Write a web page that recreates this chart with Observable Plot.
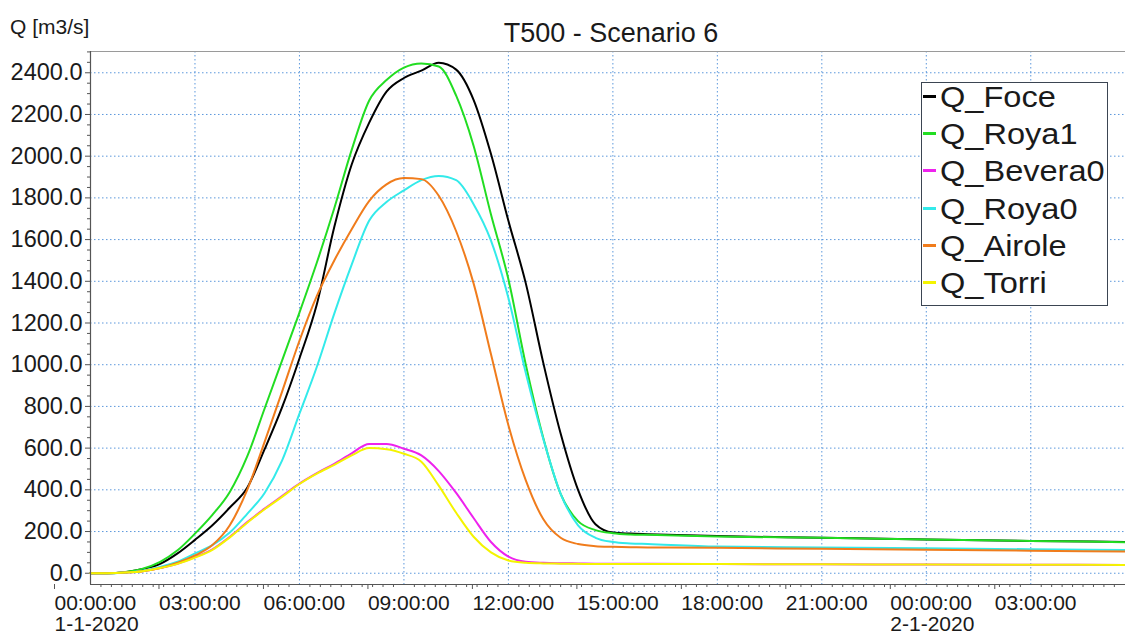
<!DOCTYPE html>
<html>
<head>
<meta charset="utf-8">
<script src="https://cdn.jsdelivr.net/npm/d3@7"></script>
<script src="https://cdn.jsdelivr.net/npm/@observablehq/plot@0.6"></script>
<style>
  html, body { margin: 0; padding: 0; background: #fff; overflow: hidden; }
  #wrap { position: relative; width: 1125px; height: 639px; font-family: "Liberation Sans", Arial, sans-serif; color: #1a1a1a; }
  #chart { position: absolute; left: 0; top: 0; }
  #title { position: absolute; left: 411px; width: 400px; top: 18px; line-height: 30px; text-align: center; font-size: 27px; }
  #ylabel { position: absolute; left: 10px; top: 15px; line-height: 24px; font-size: 21px; white-space: nowrap; }
  #legend { position: absolute; left: 921px; top: 82px; width: 185px; height: 222px; border: 1.5px solid #3b4552; background: #fff; }
  .lrow { position: absolute; left: 0; height: 37px; line-height: 37px; font-size: 30px; white-space: nowrap; }
  .ldash { position: absolute; left: 1px; top: 17px; width: 13px; height: 3px; }
  .ltext { position: absolute; left: 18px; top: 0; display: inline-block; transform: scaleX(1.085); transform-origin: left center; }
</style>
</head>
<body>
<div id="wrap">
  <div id="chart"></div>
  <div id="title">T500 - Scenario 6</div>
  <div id="ylabel">Q [m3/s]</div>
  <div id="legend"></div>
</div>
<script>
// ---- data (hours since 1-1-2020 00:00, discharge in m3/s) ----
const hours = [0,0.5,1,1.5,2,2.5,3,3.5,4,4.5,5,5.5,6,6.5,7,7.5,8,8.5,9,9.5,10,10.5,11,11.5,12,12.5,13,13.5,14,14.5,15,15.5,16,18,21,24,27,29.72];

const qFoce    = [0,0,5,20,45,95,160,230,315,410,595,795,1030,1290,1660,1960,2160,2310,2375,2410,2448,2415,2270,2010,1690,1390,1010,670,400,235,195,190,187,178,170,162,155,150];
const qRoya1   = [0,0,6,22,55,110,190,280,390,560,790,1020,1250,1490,1750,2030,2266,2365,2425,2445,2430,2290,2050,1720,1410,1000,650,381,250,207,192,186,184,176,170,162,155,149];
const qBevera0 = [0,0,3,10,25,45,77,115,175,245,310,370,430,480,525,575,620,620,597,565,490,385,265,150,80,55,50,48,47,46,46,45,45,44,43,42,41,40];
const qRoya0   = [0,0,4,12,30,55,95,135,195,285,385,540,765,990,1245,1480,1690,1780,1836,1885,1905,1885,1770,1595,1320,960,645,381,230,170,150,143,140,128,124,120,115,112];
const qAirole  = [0,0,3,10,25,50,85,135,230,400,630,870,1115,1330,1500,1650,1785,1865,1895,1890,1810,1640,1390,1050,710,445,260,170,140,130,127,125,124,122,117,113,108,104];
const qTorri   = [0,0,3,10,25,45,75,112,172,242,307,366,428,478,520,565,600,595,573,535,420,290,175,100,61,50,47,46,45,44,44,44,44,44,43,42,41,40];

const seriesNames  = ["Q_Foce","Q_Roya1","Q_Bevera0","Q_Roya0","Q_Airole","Q_Torri"];
const seriesColors = ["#000000","#22dd22","#ee22ee","#33eaea","#f07c1c","#f4f400"];
const seriesValues = [qFoce, qRoya1, qBevera0, qRoya0, qAirole, qTorri];

const yTicks = [0,200,400,600,800,1000,1200,1400,1600,1800,2000,2200,2400];
const xTickHours  = [0,3,6,9,12,15,18,21,24,27];
const xTickLabels = ["00:00:00\n1-1-2020","03:00:00","06:00:00","09:00:00","12:00:00","15:00:00","18:00:00","21:00:00","00:00:00\n2-1-2020","03:00:00"];

// ---- build table ----
const data = seriesNames.flatMap((name, i) =>
  hours.map((h, j) => ({ name, h, q: seriesValues[i][j] })));

const xDomain = [0, 29.72];
const yDomain = [-54, 2502];
const minorY = d3.range(0, 2501, 50).filter(v => v % 200 !== 0);
const minorX = d3.range(0, 29.7, 0.3).filter(v => Math.abs(v / 3 - Math.round(v / 3)) > 1e-6);

const gridStyle = { stroke: "#3f86d6", strokeOpacity: 0.85, strokeWidth: 1, strokeDasharray: "1.5,2.5" };

const chart = Plot.plot({
  width: 1125,
  height: 639,
  marginLeft: 90,
  marginRight: 0,
  marginTop: 51,
  marginBottom: 55,
  style: { fontFamily: "'Liberation Sans', Arial, sans-serif", fontSize: "21px", color: "#1a1a1a", background: "#fff" },
  x: { domain: xDomain },
  y: { domain: yDomain },
  color: { domain: seriesNames, range: seriesColors },
  marks: [
    Plot.gridX(xTickHours, gridStyle),
    Plot.gridY(yTicks, gridStyle),
    Plot.ruleY([yDomain[1]], { stroke: "#9a9a9a", strokeWidth: 1.2 }),
    Plot.axisY(yTicks, { label: null, tickSize: 5, tickPadding: 3, fontSize: 23.5, stroke: "#555", tickFormat: d => d.toFixed(1) }),
    Plot.axisY(minorY, { label: null, tickSize: 3, stroke: "#555", tickFormat: () => "" }),
    Plot.axisX(xTickHours, { label: null, tickSize: 5, tickPadding: 6, fontSize: 21, lineHeight: 1.0, textAnchor: "start", dx: -36, stroke: "#555",
      tickFormat: d => xTickLabels[xTickHours.indexOf(d)] }),
    Plot.axisX(minorX, { label: null, tickSize: 3, stroke: "#555", tickFormat: () => "" }),
    Plot.line(data, { x: "h", y: "q", z: "name", stroke: "name", strokeWidth: 2, curve: "monotone-x" }),
    Plot.ruleX([xDomain[0]], { stroke: "#555", strokeWidth: 1.2 }),
    Plot.ruleY([yDomain[0]], { stroke: "#555", strokeWidth: 1.2 })
  ]
});
document.getElementById("chart").appendChild(chart);

// ---- legend ----
const legend = document.getElementById("legend");
seriesNames.forEach((name, i) => {
  const row = document.createElement("div");
  row.className = "lrow";
  row.style.top = (-5 + i * 37.2) + "px";
  const dash = document.createElement("div");
  dash.className = "ldash";
  dash.style.background = seriesColors[i];
  const txt = document.createElement("span");
  txt.className = "ltext";
  txt.textContent = name;
  row.appendChild(dash);
  row.appendChild(txt);
  legend.appendChild(row);
});
</script>
</body>
</html>
